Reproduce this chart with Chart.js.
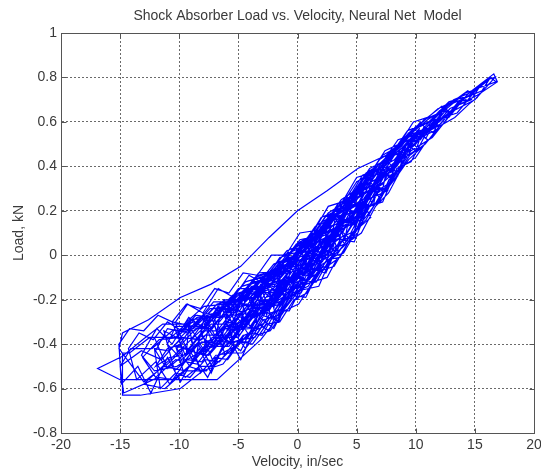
<!DOCTYPE html>
<html>
<head>
<meta charset="utf-8">
<title>Shock Absorber Load vs. Velocity</title>
<script src="https://cdn.jsdelivr.net/npm/chart.js@4.4.0/dist/chart.umd.min.js"></script>
<style>
    html, body { margin: 0; padding: 0; background: #fff; }
    #wrap { width: 541px; height: 476px; }
</style>
</head>
<body>
<div id="wrap"><canvas id="loadChart" width="541" height="476"></canvas></div>
<script>
// axis ticks
var velocityTicks = [-20, -15, -10, -5, 0, 5, 10, 15, 20];
var loadTicks = [-0.8, -0.6, -0.4, -0.2, 0, 0.2, 0.4, 0.6, 0.8, 1];

var runA = [
    [-15.0,-0.50],[-13.2,-0.43],[-11.5,-0.47],[-9.8,-0.37],[-8.1,-0.38],[-6.3,-0.27],[-4.6,-0.27],[-2.8,-0.14],[-1.1,-0.12],[0.7,0.01],
    [2.4,0.04],[4.2,0.20],[5.9,0.25],[7.6,0.39],[9.3,0.46],[11.0,0.58],[12.8,0.63],[14.5,0.73],[16.6,0.816],
    [16.9,0.78],[15.2,0.72],[13.4,0.67],[11.7,0.59],[9.9,0.54],[8.2,0.43],[6.5,0.38],[4.8,0.23],[3.1,0.18],[1.3,0.04],
    [-0.4,0.03],[-2.2,-0.11],[-3.9,-0.12],[-5.7,-0.24],[-7.4,-0.24],[-9.2,-0.35],[-11.0,-0.33],[-12.0,-0.43],
    [-11.2,-0.50],[-9.6,-0.42],[-7.9,-0.45],[-6.1,-0.33],[-4.4,-0.32],[-2.7,-0.19],[-0.9,-0.16],[0.8,-0.02],[2.6,0.02],
    [4.3,0.18],[6.0,0.23],[7.8,0.40],[10.0,0.50],
    [10.3,0.57],[8.6,0.47],[6.9,0.41],[5.1,0.28],[3.4,0.22],[1.6,0.08],[-0.1,0.05],[-1.8,-0.07],[-3.6,-0.10],[-5.3,-0.21],
    [-7.1,-0.21],[-8.8,-0.32],[-10.6,-0.30],
    [-9.5,-0.45],[-7.8,-0.36],[-6.0,-0.36],[-4.3,-0.23],[-2.5,-0.22],[-0.8,-0.08],[1.0,-0.05],[2.7,0.11],[4.5,0.16],
    [6.2,0.33],[8.0,0.38],[9.7,0.52],[11.5,0.57],[12.2,0.65],
    [11.0,0.61],[9.2,0.53],[7.5,0.45],[5.1,0.39],[2.5,0.29],[0.0,0.20],[-2.4,0.08],[-4.8,-0.05],[-7.3,-0.13],[-9.9,-0.19],
    [-12.6,-0.29],[-14.8,-0.35],[-15.1,-0.42],
    [-13.0,-0.57],[-11.3,-0.50],[-9.5,-0.52],[-7.8,-0.41],[-6.0,-0.41],[-4.2,-0.28],[-2.5,-0.25],[-0.7,-0.10],[1.0,-0.09],
    [2.8,0.06],[4.5,0.10],[6.3,0.28],[8.1,0.37],
    [7.2,0.42],[5.4,0.29],[3.7,0.24],[1.9,0.09],[0.2,0.07],[-1.6,-0.07],[-3.3,-0.08],[-5.1,-0.21],[-6.2,-0.20],
    [-5.0,-0.33],[-3.3,-0.21],[-1.5,-0.19],[0.3,-0.05],[2.0,-0.01],[3.8,0.15],[5.5,0.21],[6.3,0.31],
    [5.1,0.30],[3.3,0.14],[1.6,0.11],[-0.2,-0.04],[-1.9,-0.06],[-3.7,-0.19],[-5.4,-0.20],[-7.2,-0.33],[-8.9,-0.32],[-10.2,-0.42]
];
var runB = [
    [-9.1,-0.50],[-7.4,-0.39],[-5.6,-0.39],[-3.9,-0.25],[-2.1,-0.23],[-0.4,-0.09],[1.4,-0.06],[3.1,0.10],[4.9,0.15],
    [6.6,0.32],[8.4,0.40],[10.1,0.54],[11.9,0.58],[13.6,0.69],[14.3,0.70],
    [13.1,0.69],[11.4,0.61],[9.6,0.56],[7.9,0.44],[6.1,0.39],[4.4,0.25],[2.6,0.19],[0.9,0.06],[-0.9,0.02],[-2.6,-0.09],
    [-4.4,-0.12],[-6.1,-0.22],[-7.9,-0.23],[-9.6,-0.31],[-11.4,-0.31],[-13.1,-0.38],[-14.8,-0.455],[-16.9,-0.51],
    [-15.0,-0.56],[-6.8,-0.56],[-3.1,-0.38],[0.1,-0.16],[1.8,-0.14],[2.7,-0.03],[3.3,0.01],[5.1,0.10],[5.5,0.20],
    [4.0,0.20],[2.3,0.09],[0.5,0.05],[-1.2,-0.07],[-3.0,-0.10],[-4.7,-0.21],[-5.2,-0.23],
    [-4.0,-0.32],[-2.3,-0.19],[-0.5,-0.12],[1.2,0.02],[3.0,0.09],[4.7,0.24],[6.5,0.31],[8.2,0.45],[10.0,0.50],
    [11.7,0.61],[13.5,0.64],[15.2,0.75],[16.8,0.78],
    [16.3,0.80],[14.6,0.72],[12.8,0.69],[11.1,0.60],[9.3,0.56],[7.6,0.43],[5.8,0.37],[4.1,0.23],[2.3,0.17],[0.6,0.04],
    [-1.2,0.00],[-2.9,-0.11],[-4.7,-0.14],[-6.4,-0.25],[-8.2,-0.28],[-9.9,-0.37],[-11.7,-0.38],[-13.1,-0.46],
    [-12.0,-0.55],[-10.3,-0.47],[-8.5,-0.49],[-6.8,-0.37],[-5.0,-0.37],[-3.3,-0.22],[-1.5,-0.18],[0.2,-0.03],[2.0,0.01],
    [3.7,0.17],[5.5,0.22],[7.2,0.38],[9.0,0.44],
    [8.0,0.46],[6.2,0.33],[4.5,0.27],[2.7,0.13],[1.0,0.08],[-0.8,-0.04],[-2.5,-0.08],[-4.3,-0.19],[-6.0,-0.22],[-7.8,-0.32],[-9.1,-0.32],
    [-7.9,-0.43],[-6.2,-0.32],[-4.4,-0.32],[-2.7,-0.17],[-0.9,-0.14],[0.8,0.01],[2.6,0.05],[4.3,0.21],[6.1,0.27],[7.1,0.37],
    [6.0,0.35],[4.2,0.21],[2.5,0.15],[0.7,0.02],[-1.0,-0.02],[-2.8,-0.14],[-4.5,-0.17],[-6.3,-0.28],[-7.1,-0.28]
];
var runC = [
    [-5.9,-0.40],[-4.2,-0.27],[-2.4,-0.25],[-0.7,-0.10],[1.1,-0.07],[2.8,0.09],[4.6,0.14],[6.3,0.31],[8.1,0.39],[9.8,0.52],[11.0,0.56],
    [10.4,0.60],[8.7,0.49],[6.9,0.43],[5.2,0.29],[3.4,0.23],[1.7,0.09],[-0.1,0.04],[-1.8,-0.08],[-3.6,-0.11],[-5.3,-0.22],
    [-7.1,-0.24],[-8.8,-0.33],[-10.6,-0.34],[-12.3,-0.42],[-14.1,-0.42],[-15.0,-0.50],
    [-14.7,-0.62],[-13.0,-0.58],[-11.2,-0.60],[-9.5,-0.52],[-7.7,-0.52],[-6.0,-0.40],[-4.2,-0.37],[-2.5,-0.23],[-0.7,-0.19],
    [1.0,-0.05],[2.8,0.00],[3.2,0.07],
    [2.1,0.04],[0.4,0.01],[-1.4,-0.10],[-3.1,-0.13],[-4.0,-0.22],
    [-2.8,-0.26],[-1.1,-0.13],[0.7,-0.07],[2.4,0.08],[4.2,0.14],[5.9,0.30],[7.7,0.37],[9.4,0.51],[11.2,0.56],[12.9,0.66],
    [14.7,0.70],[15.3,0.75],
    [14.2,0.73],[12.4,0.65],[10.7,0.61],[8.9,0.50],[7.2,0.45],[5.4,0.31],[3.7,0.25],[1.9,0.11],[0.2,0.06],[-1.6,-0.06],
    [-3.3,-0.09],[-5.1,-0.20],[-6.8,-0.22],[-8.6,-0.32],[-10.3,-0.32],[-11.0,-0.40],
    [-9.8,-0.47],[-8.1,-0.39],[-6.3,-0.40],[-4.6,-0.28],[-2.8,-0.26],[-1.1,-0.11],[0.7,-0.08],[2.4,0.08],[4.2,0.13],
    [5.5,0.24],[7.6,0.29],[6.7,0.31],
    [5.0,0.26],[3.3,0.14],[1.5,0.09],[-0.2,-0.03],[-2.0,-0.07],[-3.0,-0.16],
    [-1.8,-0.21],[-0.1,-0.08],[1.7,-0.03],[3.4,0.13],[5.2,0.18],[6.9,0.35],[8.7,0.42],[10.1,0.55],
    [9.0,0.52],[7.3,0.40],[5.5,0.34],[3.8,0.20],[2.0,0.14],[0.3,0.01],[-1.5,-0.03],[-3.2,-0.14],[-5.0,-0.17],[-6.7,-0.27],
    [-8.5,-0.28],[-10.2,-0.37],[-12.1,-0.37]
];
var runD = [
    [-11.0,-0.51],[-9.2,-0.43],[-7.5,-0.45],[-5.7,-0.34],[-4.0,-0.33],[-2.2,-0.18],[-0.5,-0.15],[1.3,0.00],[2.2,0.00],
    [1.0,0.05],[-0.7,-0.07],[-2.5,-0.10],[-4.2,-0.20],[-6.0,-0.22],[-7.9,-0.31],
    [-6.7,-0.39],[-5.0,-0.28],[-3.2,-0.27],[-1.5,-0.13],[0.3,-0.10],[2.0,0.06],[3.8,0.10],[5.5,0.27],[7.3,0.33],[9.0,0.49],
    [10.8,0.54],[12.5,0.65],[13.1,0.64],
    [12.0,0.65],[10.3,0.55],[8.5,0.52],[6.8,0.39],[5.0,0.33],[3.3,0.19],[1.5,0.13],[-0.2,0.00],[-2.0,-0.04],[-3.7,-0.15],
    [-5.5,-0.18],[-7.2,-0.28],[-9.0,-0.29],[-10.7,-0.37],[-12.5,-0.37],[-14.2,-0.44],[-14.8,-0.44],
    [-14.8,-0.63],[-13.3,-0.63],[-9.9,-0.60],[-8.0,-0.52],[-6.3,-0.49],[-4.5,-0.36],[-2.8,-0.32],[-1.0,-0.17],[0.7,-0.13],
    [2.5,0.02],[4.0,0.05],
    [3.0,0.12],[1.2,0.01],[-0.5,-0.02],[-2.3,-0.14],[-4.0,-0.16],[-5.8,-0.26],[-6.1,-0.25],
    [-4.9,-0.36],[-3.2,-0.24],[-1.4,-0.22],[0.3,-0.07],[2.1,-0.03],[3.8,0.13],[5.6,0.19],[7.3,0.36],[8.2,0.38],
    [7.1,0.40],[5.3,0.27],[3.6,0.21],[1.8,0.08],[0.1,0.03],[-1.7,-0.09],[-3.4,-0.12],[-5.2,-0.23],[-6.9,-0.25],[-8.7,-0.34],[-10.1,-0.34],
    [-8.9,-0.47],[-7.2,-0.37],[-5.4,-0.37],[-3.7,-0.24],[-1.9,-0.22],[-0.2,-0.07],[1.6,-0.03],[3.3,0.13],[5.1,0.18],
    [6.8,0.35],[8.6,0.42],[10.3,0.55],[12.1,0.59],[13.8,0.70],[15.6,0.74],[16.2,0.79],
    [15.0,0.74],[13.2,0.70],[11.5,0.61],[9.7,0.56],[8.0,0.45],[6.2,0.38],[4.5,0.24],[2.7,0.18],[1.0,0.05],[-0.8,0.01],
    [-2.5,-0.11],[-4.0,-0.13]
];
var runE = [
    [-13.0,-0.58],[-11.8,-0.55],[-10.5,-0.56],[-9.2,-0.50],[-8.0,-0.52],[-6.9,-0.45],[-5.7,-0.44],[-4.6,-0.36],[-3.4,-0.35],
    [-2.3,-0.26],[-1.1,-0.24],[0.0,-0.15],[1.2,-0.12],[2.4,-0.03],[3.5,0.02],[4.7,0.10],[5.9,0.18],[7.0,0.26],[8.2,0.34],
    [9.4,0.43],[10.6,0.49],[11.8,0.56],
    [11.2,0.60],[10.0,0.58],[8.8,0.49],[7.6,0.44],[6.4,0.35],[5.2,0.30],[4.0,0.21],[2.8,0.17],[1.6,0.07],[0.4,0.04],
    [-0.8,-0.05],[-2.0,-0.07],[-3.1,-0.16],[-4.3,-0.17],[-5.5,-0.25],[-6.7,-0.24],[-7.9,-0.32],[-9.0,-0.30],[-10.2,-0.37],[-11.3,-0.34],
    [-10.4,-0.52],[-9.3,-0.47],[-8.1,-0.48],[-7.0,-0.41],[-5.8,-0.41],[-4.6,-0.32],[-3.5,-0.33],[-2.3,-0.22],[-1.2,-0.21],
    [0.0,-0.12],[1.1,-0.10],[2.3,0.00],[3.4,0.03],[4.6,0.14],[5.8,0.19],[7.0,0.30],
    [6.1,0.31],[4.9,0.27],[3.7,0.18],[2.5,0.14],[1.3,0.05],[0.1,0.01],[-1.0,-0.08],[-2.2,-0.10],[-3.4,-0.19],[-4.6,-0.20],
    [-5.8,-0.28],[-6.9,-0.27],[-8.1,-0.35],
    [-7.2,-0.47],[-6.0,-0.43],[-4.9,-0.40],[-3.7,-0.33],[-2.6,-0.30],[-1.4,-0.21],[-0.3,-0.18],[0.9,-0.08],[2.0,-0.06],
    [3.2,0.04],[4.3,0.08],
    [3.5,0.12],[2.3,0.07],[1.1,0.00],[-0.1,-0.03],[-1.3,-0.11],[-2.5,-0.13],[-3.7,-0.22],[-4.9,-0.23],[-6.1,-0.31],
    [-7.3,-0.31],[-8.5,-0.38],[-9.7,-0.37],[-10.9,-0.43],[-12.1,-0.42],
    [-11.6,-0.60],[-10.3,-0.53],[-9.1,-0.55],[-7.8,-0.47],[-6.6,-0.48],[-5.3,-0.39],[-4.1,-0.39],[-2.9,-0.29],[-1.6,-0.27],
    [-0.4,-0.17],[0.9,-0.14],[2.1,-0.04],[3.3,0.00],[4.6,0.10],[5.8,0.16],[7.1,0.28],[8.3,0.35],[9.5,0.45],[10.8,0.50],
    [12.0,0.58],[13.3,0.62],[14.5,0.68],[15.2,0.71],
    [14.4,0.74],[13.1,0.69],[11.9,0.66],[10.6,0.60],[9.4,0.55],[8.1,0.47],[6.9,0.41],[5.6,0.33],[4.4,0.26],[3.1,0.20],
    [1.9,0.11],[0.6,0.07],[-0.6,-0.02],[-1.8,-0.05],[-3.1,-0.14]
];
var runF = [
    [-2.2,-0.28],[-1.0,-0.20],[0.1,-0.16],[1.3,-0.07],[2.4,-0.05],[3.6,0.06],[4.7,0.09],[5.9,0.21],[7.0,0.25],[8.2,0.37],[9.1,0.41],
    [8.3,0.46],[7.1,0.38],[5.9,0.34],[4.7,0.24],[3.5,0.20],[2.3,0.10],[1.1,0.07],[-0.1,-0.03],[-1.3,-0.05],[-2.5,-0.15],
    [-3.7,-0.15],[-4.9,-0.25],[-6.1,-0.24],
    [-5.3,-0.42],[-4.1,-0.35],[-3.0,-0.36],[-1.8,-0.25],[-0.7,-0.25],[0.5,-0.13],[1.6,-0.12],[2.8,-0.01],[3.9,0.01],[5.1,0.12],[6.2,0.17],
    [5.4,0.25],[4.2,0.20],[3.0,0.11],[1.8,0.09],[0.6,-0.01],[-0.6,-0.04],[-1.8,-0.12],[-3.0,-0.14],[-4.2,-0.22],[-5.4,-0.22],
    [-6.6,-0.30],[-7.8,-0.29],[-9.0,-0.38],
    [-8.2,-0.53],[-7.0,-0.46],[-5.9,-0.47],[-4.7,-0.38],[-3.6,-0.37],[-2.4,-0.27],[-1.3,-0.24],[-0.1,-0.14],[1.0,-0.11],
    [2.2,-0.02],[3.3,0.02],[4.5,0.13],[5.6,0.17],[6.8,0.29],[7.9,0.33],[9.1,0.44],[10.2,0.48],
    [9.4,0.52],[8.2,0.48],[7.0,0.39],[5.8,0.36],[4.6,0.26],[3.4,0.22],[2.2,0.12],[1.0,0.09],[-0.2,-0.01],[-1.4,-0.03],
    [-2.6,-0.12],[-3.8,-0.12],[-5.0,-0.21],[-6.2,-0.20],[-7.4,-0.28],[-8.6,-0.27],[-9.8,-0.34],[-11.0,-0.30],[-12.2,-0.38],
    [-13.4,-0.35],[-14.3,-0.42],
    [-13.6,-0.56],[-12.0,-0.48],[-10.8,-0.58],[-9.0,-0.44],[-7.6,-0.55],[-5.9,-0.36],[-4.8,-0.47],[-3.2,-0.28],[-2.0,-0.33],
    [-0.6,-0.18],[0.7,-0.19],[1.9,-0.06],
    [1.2,0.02],[-0.2,-0.05],[-1.5,-0.04],[-2.8,-0.13],[-4.1,-0.09],[-5.4,-0.19],[-6.7,-0.15],[-8.0,-0.26],[-9.3,-0.22],[-10.3,-0.30]
];
var runG = [
    [-9.6,-0.48],[-8.4,-0.40],[-7.2,-0.50],[-6.0,-0.38],[-4.8,-0.43],[-3.6,-0.30],[-2.4,-0.34],[-1.2,-0.19],[0.0,-0.20],
    [1.2,-0.06],[2.4,-0.08],[3.6,0.07],[4.8,0.06],[6.0,0.22],[7.2,0.24],[8.4,0.39],[9.6,0.42],[10.8,0.54],[12.0,0.57],[13.0,0.64],
    [12.2,0.67],[11.0,0.62],[9.8,0.60],[8.6,0.50],[7.4,0.47],[6.2,0.37],[5.0,0.35],[3.8,0.24],[2.6,0.22],[1.4,0.11],
    [0.2,0.10],[-1.0,0.00],[-2.2,0.00],[-3.4,-0.09],[-4.6,-0.08],[-5.8,-0.17],[-7.0,-0.15],[-8.2,-0.24],[-9.4,-0.22],
    [-10.6,-0.30],[-11.8,-0.27],[-13.0,-0.34],[-14.2,-0.33],[-15.1,-0.40],
    [-14.9,-0.58],[-13.5,-0.50],[-12.4,-0.62],[-11.0,-0.46],[-9.9,-0.57],[-8.3,-0.42],[-7.3,-0.53],[-5.6,-0.33],[-4.4,-0.42],
    [-2.9,-0.24],[-1.6,-0.30],[-0.3,-0.12],
    [-1.0,-0.10],[-2.5,-0.17],[-3.8,-0.14],[-5.2,-0.25],[-6.5,-0.21],[-7.9,-0.33],[-9.2,-0.28],[-10.6,-0.40],[-11.9,-0.33],[-13.2,-0.45],
    [-12.1,-0.52],[-10.2,-0.50],[-8.4,-0.44],[-6.6,-0.40],[-4.8,-0.31],[-3.0,-0.26],[-1.2,-0.14],[0.6,-0.09],[2.4,0.03],
    [4.2,0.10],[6.0,0.25],[7.8,0.32],[9.6,0.47],[11.4,0.53],[13.2,0.65],[15.0,0.70],[16.7,0.80],
    [16.0,0.79],[14.3,0.71],[12.5,0.67],[10.8,0.57],[9.0,0.53],[7.3,0.40],[5.5,0.36],[3.8,0.21],[2.0,0.17],[0.3,0.02],
    [-1.5,-0.01],[-3.2,-0.15],[-5.0,-0.15],[-6.7,-0.27],[-8.0,-0.26]
];
var runH = [
    [-7.0,-0.36],[-5.9,-0.30],[-4.8,-0.31],[-3.7,-0.22],[-2.6,-0.22],[-1.5,-0.12],[-0.4,-0.11],[0.7,-0.01],[1.8,0.00],
    [2.9,0.10],[4.0,0.12],[5.1,0.23],
    [4.2,0.25],[3.1,0.16],[2.0,0.13],[0.9,0.03],[-0.2,0.01],[-1.3,-0.08],[-2.4,-0.09],[-3.5,-0.17],[-4.6,-0.18],[-5.2,-0.27],
    [-4.1,-0.36],[-3.0,-0.27],[-1.9,-0.29],[-0.8,-0.18],[0.3,-0.17],[1.4,-0.06],[2.5,-0.05],[3.6,0.07],[4.7,0.08],
    [5.8,0.22],[6.9,0.24],[7.9,0.36],
    [7.1,0.36],[6.0,0.29],[4.9,0.27],[3.8,0.17],[2.7,0.15],[1.6,0.05],[0.5,0.04],[-0.6,-0.06],[-1.7,-0.06],[-2.8,-0.15],
    [-3.9,-0.14],[-5.0,-0.23],[-6.1,-0.21],[-7.1,-0.30],
    [-6.1,-0.45],[-4.9,-0.39],[-3.8,-0.40],[-2.6,-0.31],[-1.5,-0.30],[-0.3,-0.20],[0.8,-0.17],[2.0,-0.07],[3.1,-0.05],
    [4.3,0.06],[5.4,0.10],[6.6,0.22],[7.7,0.28],[8.9,0.40],[10.0,0.44],[11.0,0.52],
    [10.2,0.55],[9.0,0.49],[7.8,0.44],[6.6,0.34],[5.4,0.31],[4.2,0.19],[3.0,0.17],[1.8,0.06],[0.6,0.05],[-0.6,-0.05],[-1.8,-0.06],
    [-1.0,-0.20],[0.2,-0.11],[1.3,-0.12],[2.5,-0.02],[3.6,-0.01],[4.8,0.11],[5.0,0.14],
    [4.0,0.16],[2.8,0.09],[1.6,0.06],[0.4,-0.04],[-0.8,-0.06],[-2.0,-0.14],[-3.2,-0.16],[-4.4,-0.25],[-5.6,-0.26],
    [-6.8,-0.34],[-8.0,-0.34],[-9.2,-0.42],[-10.3,-0.41],
    [-9.5,-0.55],[-8.3,-0.50],[-7.1,-0.50],[-5.9,-0.44],[-4.7,-0.44],[-3.5,-0.36],[-2.3,-0.34],[-1.1,-0.25],[0.1,-0.22],
    [1.3,-0.12],[2.5,-0.10],[3.3,-0.02]
];
var runI = [
    [-8.0,-0.44],[-7.3,-0.27],[-6.5,-0.40],[-5.8,-0.22],[-5.0,-0.36],[-4.3,-0.16],[-3.5,-0.30],[-2.8,-0.10],[-2.0,-0.24],
    [-1.3,-0.03],[-0.5,-0.16],[0.2,0.05],[1.0,-0.10],[1.7,0.10],[2.5,-0.03],[3.2,0.17],[4.0,0.07],[4.7,0.26],[5.5,0.15],
    [6.2,0.33],[7.0,0.25],[7.7,0.42],[8.5,0.36],[9.2,0.50],[10.0,0.47],[10.7,0.58],[11.5,0.55],[12.2,0.64],
    [11.6,0.60],[10.9,0.53],[10.1,0.56],[9.4,0.45],[8.6,0.47],[7.9,0.34],[7.1,0.40],[6.4,0.22],[5.6,0.32],[4.9,0.12],
    [4.1,0.24],[3.4,0.02],[2.6,0.15],[1.9,-0.06],[1.1,0.07],[0.4,-0.13],[-0.4,-0.01],[-1.1,-0.20],[-1.9,-0.07],[-2.6,-0.27],
    [-3.4,-0.13],[-4.1,-0.31],[-4.9,-0.18],[-5.6,-0.37],[-6.4,-0.23],[-7.1,-0.42],[-7.9,-0.28],[-8.6,-0.46],[-9.2,-0.32]
];
var runJ = [
    [-9.4,-0.44],[-8.2,-0.36],[-7.0,-0.42],[-5.8,-0.29],[-4.6,-0.33],[-3.4,-0.20],[-2.2,-0.23],[-1.0,-0.10],[0.2,-0.13],
    [1.4,0.02],[2.6,0.00],[3.8,0.15],[5.0,0.14],[6.2,0.29],[7.4,0.30],[8.6,0.43],[9.2,0.45],
    [8.4,0.41],[7.2,0.36],[6.0,0.25],[4.8,0.20],[3.6,0.09],[2.4,0.06],[1.2,-0.05],[0.0,-0.06],[-1.2,-0.16],[-2.4,-0.17],
    [-3.6,-0.26],[-4.8,-0.26],[-6.0,-0.34],
    [-5.2,-0.27],[-4.0,-0.24],[-2.8,-0.16],[-1.6,-0.15],[-0.4,-0.05],[0.8,-0.04],[2.0,0.07],[3.2,0.09],[4.4,0.21],
    [5.6,0.24],[6.8,0.36],[8.0,0.39],[9.2,0.50],[10.4,0.52],[11.6,0.61],[12.8,0.62],[14.0,0.70],
    [13.2,0.66],[12.0,0.60],[10.8,0.56],[9.6,0.48],[8.4,0.44],[7.2,0.32],[6.0,0.28],[4.8,0.16],[3.6,0.12],[2.4,0.02],
    [1.2,-0.01],[0.0,-0.10],[-1.2,-0.13],[-2.4,-0.20],[-3.6,-0.23],[-4.8,-0.30],[-6.0,-0.32],[-7.2,-0.38],[-8.4,-0.40],
    [-9.6,-0.45],[-10.8,-0.46],[-12.0,-0.50],
    [-11.0,-0.42],[-9.8,-0.40],[-8.6,-0.33],[-7.4,-0.33],[-6.2,-0.26],[-5.0,-0.24],[-3.8,-0.18],[-2.6,-0.15],[-1.4,-0.08],
    [-0.2,-0.06],[1.0,0.03],[2.2,0.05],[3.4,0.14],[4.6,0.17],[5.8,0.27],[6.4,0.30]
];

var fontFamily = "'Liberation Sans', Arial, Helvetica, sans-serif";
var textColor = '#3a3a3a';

(function () {
    var trace = runA.concat(runB, runC, runD, runE, runF, runG, runH, runI, runJ).map(function (p) {
        return { x: p[0], y: p[1] };
    });

    // solid box round the axes plus short inward ticks on all four sides
    var axesBox = {
        id: 'axesBox',
        afterDraw: function (chart) {
            var ctx = chart.ctx;
            var a = chart.chartArea;
            var xs = chart.scales.x, ys = chart.scales.y;
            var L = Math.round(a.left) + 0.5, R = Math.round(a.right) + 0.5;
            var T = Math.round(a.top) + 0.5, B = Math.round(a.bottom) + 0.5;
            ctx.save();
            ctx.strokeStyle = '#555';
            ctx.lineWidth = 1;
            ctx.setLineDash([]);
            ctx.strokeRect(L, T, R - L, B - T);
            ctx.beginPath();
            velocityTicks.forEach(function (v) {
                var px = Math.round(xs.getPixelForValue(v)) + 0.5;
                ctx.moveTo(px, B); ctx.lineTo(px, B - 5);
                ctx.moveTo(px, T); ctx.lineTo(px, T + 5);
            });
            loadTicks.forEach(function (v) {
                var py = Math.round(ys.getPixelForValue(v)) + 0.5;
                ctx.moveTo(L, py); ctx.lineTo(L + 5, py);
                ctx.moveTo(R, py); ctx.lineTo(R - 5, py);
            });
            ctx.stroke();
            ctx.restore();
        }
    };

    var ctx = document.getElementById('loadChart').getContext('2d');
    new Chart(ctx, {
        type: 'scatter',
        data: {
            datasets: [{
                label: 'Neural net model',
                data: trace,
                showLine: true,
                borderColor: '#0000ff',
                borderWidth: 1.2,
                pointRadius: 0,
                tension: 0,
                fill: false
            }]
        },
        options: {
            responsive: false,
            animation: false,
            layout: { padding: { left: 0, right: 7, top: 0, bottom: 0 } },
            plugins: {
                legend: { display: false },
                tooltip: { enabled: false },
                title: {
                    display: true,
                    fullSize: false,
                    text: 'Shock Absorber Load vs. Velocity, Neural Net  Model',
                    color: textColor,
                    font: { family: fontFamily, size: 14, weight: 'normal' },
                    padding: { top: 8, bottom: 8.2 }
                }
            },
            scales: {
                x: {
                    type: 'linear',
                    min: -20,
                    max: 20,
                    afterBuildTicks: function (s) {
                        s.ticks = velocityTicks.map(function (v) { return { value: v }; });
                    },
                    afterFit: function (s) {
                        s.height = 43;
                        s.paddingLeft = 0;
                        s.paddingRight = 0;
                    },
                    ticks: {
                        color: textColor,
                        font: { family: fontFamily, size: 14 },
                        padding: 4,
                        maxRotation: 0,
                        autoSkip: false
                    },
                    grid: { color: '#6a6a6a', lineWidth: 1, drawTicks: false },
                    border: { display: true, color: '#555', dash: [2, 2] },
                    title: {
                        display: true,
                        text: 'Velocity, in/sec',
                        color: textColor,
                        font: { family: fontFamily, size: 14 },
                        padding: { top: 0, bottom: 5 }
                    }
                },
                y: {
                    type: 'linear',
                    min: -0.8,
                    max: 1,
                    afterBuildTicks: function (s) {
                        s.ticks = loadTicks.map(function (v) { return { value: v }; });
                    },
                    afterFit: function (s) {
                        s.width = 61;
                        s.paddingTop = 0;
                        s.paddingBottom = 0;
                    },
                    ticks: {
                        color: textColor,
                        font: { family: fontFamily, size: 14 },
                        padding: 4,
                        autoSkip: false,
                        callback: function (v) { return String(Math.round(v * 10) / 10); }
                    },
                    grid: { color: '#6a6a6a', lineWidth: 1, drawTicks: false },
                    border: { display: true, color: '#555', dash: [2, 2] },
                    title: {
                        display: true,
                        text: 'Load, kN',
                        color: textColor,
                        font: { family: fontFamily, size: 14 },
                        padding: { top: 11, bottom: 0 }
                    }
                }
            }
        },
        plugins: [axesBox]
    });
})();
</script>
</body>
</html>
